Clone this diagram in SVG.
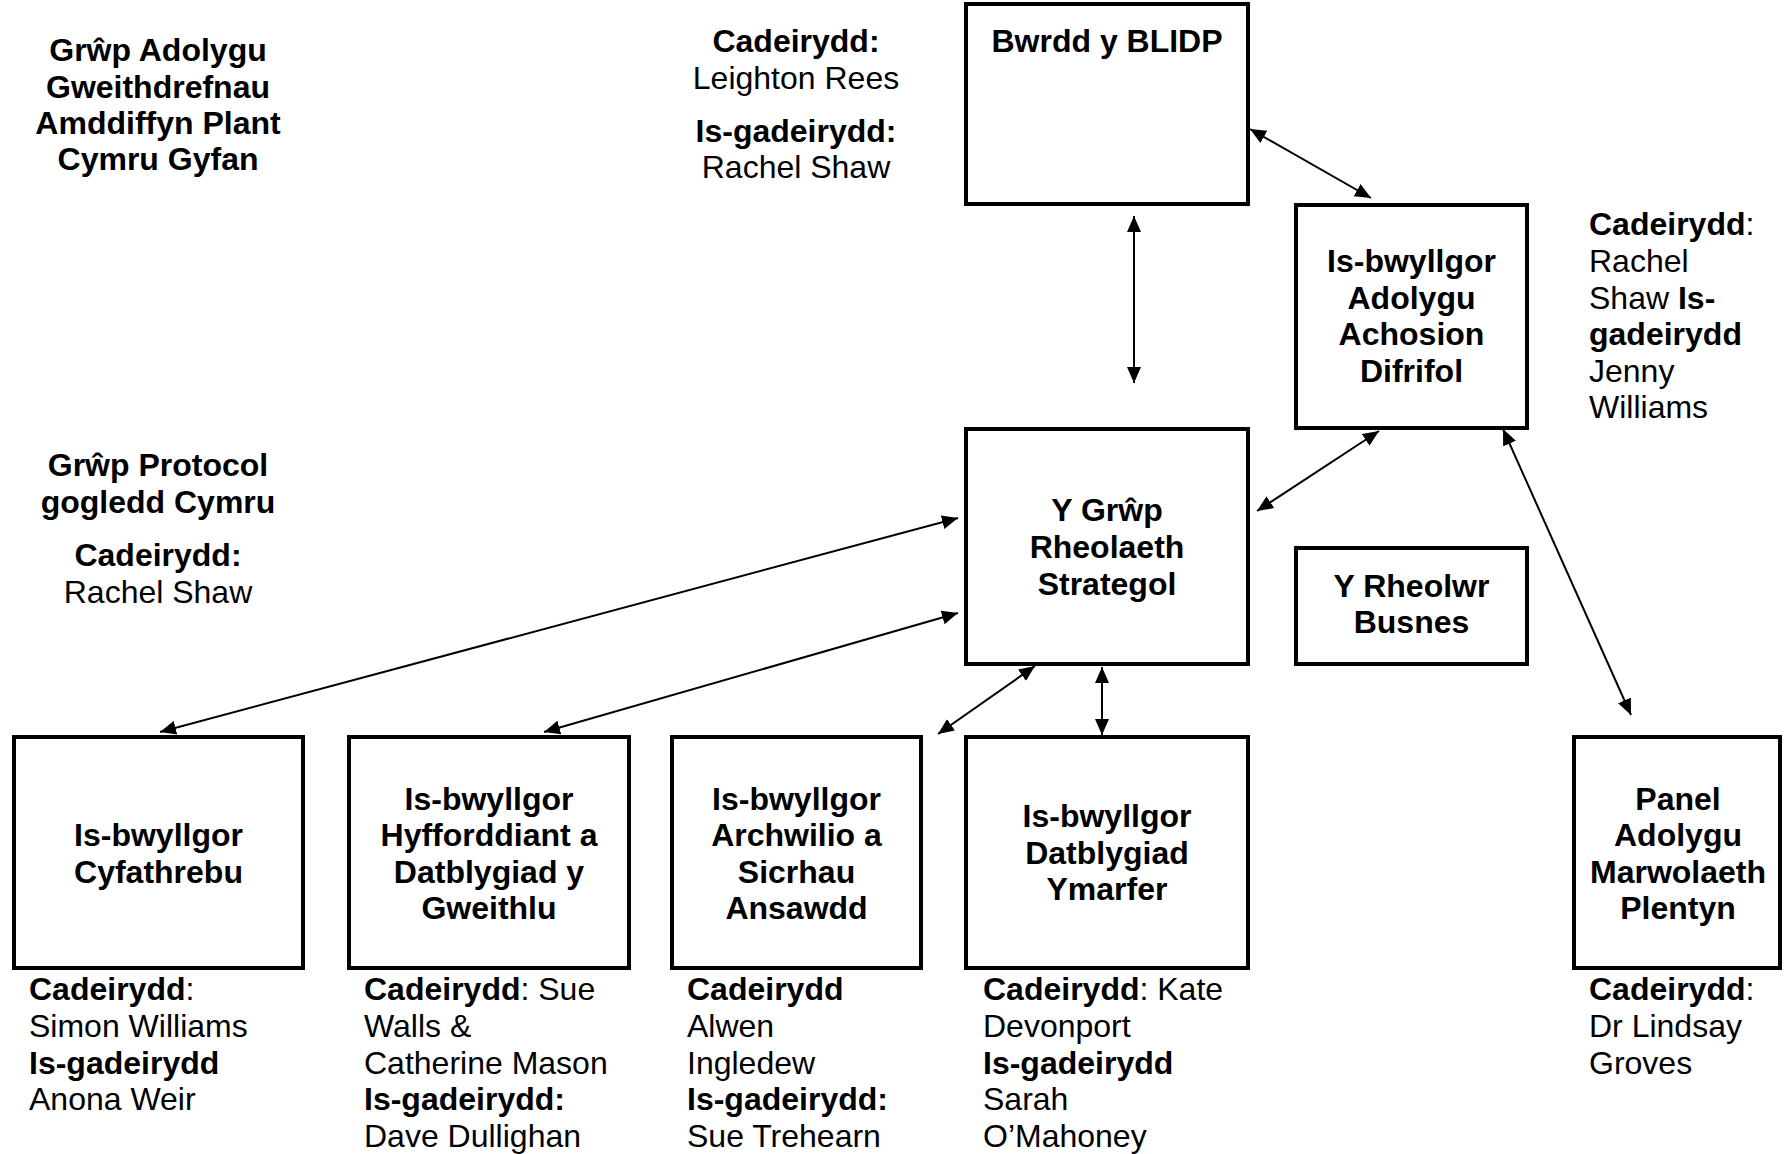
<svg xmlns="http://www.w3.org/2000/svg" width="1784" height="1154" viewBox="0 0 1784 1154">
<style>
text{font-family:"Liberation Sans",Arial,sans-serif;font-size:32px;fill:#000}
.b{font-weight:bold}
.c{text-anchor:middle}
.box{fill:#fff;stroke:#000;stroke-width:4}
.con line{stroke:#000;stroke-width:2;marker-start:url(#ah);marker-end:url(#ah)}
</style>
<defs>
<marker id="ah" markerUnits="userSpaceOnUse" markerWidth="17" markerHeight="16" refX="16" refY="7" orient="auto-start-reverse" viewBox="0 0 17 16">
<path d="M0,0 L16,7 L0,14 z" fill="#000"/>
</marker>
</defs>
<rect width="1784" height="1154" fill="#fff"/>

<g id="label-adolygu" class="b c">
<text x="158" y="61">Grŵp Adolygu</text>
<text x="158" y="97.5">Gweithdrefnau</text>
<text x="158" y="134">Amddiffyn Plant</text>
<text x="158" y="170">Cymru Gyfan</text>
</g>
<g id="label-bwrdd-chairs" class="c">
<text x="796" y="52" class="b">Cadeirydd:</text>
<text x="796" y="89">Leighton Rees</text>
<text x="796" y="142" class="b">Is-gadeirydd:</text>
<text x="796" y="178">Rachel Shaw</text>
</g>
<g id="label-protocol" class="c">
<text x="158" y="476" class="b">Grŵp Protocol</text>
<text x="158" y="513" class="b">gogledd Cymru</text>
<text x="158" y="566" class="b">Cadeirydd:</text>
<text x="158" y="603">Rachel Shaw</text>
</g>

<g id="node-bwrdd">
<rect class="box" x="966" y="4" width="282" height="200"/>
<text x="1107" y="52" class="b c">Bwrdd y BLIDP</text>
</g>
<g id="node-achosion">
<rect class="box" x="1296" y="205" width="231" height="223"/>
<g class="b c">
<text x="1411.5" y="272">Is-bwyllgor</text>
<text x="1411.5" y="308.5">Adolygu</text>
<text x="1411.5" y="345">Achosion</text>
<text x="1411.5" y="381.5">Difrifol</text>
</g>
<text x="1589" y="235"><tspan class="b">Cadeirydd</tspan>:</text>
<text x="1589" y="272">Rachel</text>
<text x="1589" y="308.5">Shaw <tspan class="b">Is-</tspan></text>
<text x="1589" y="345" class="b">gadeirydd</text>
<text x="1589" y="381.5">Jenny</text>
<text x="1589" y="418">Williams</text>
</g>
<g id="node-strategol">
<rect class="box" x="966" y="429" width="282" height="235"/>
<g class="b c">
<text x="1107" y="521">Y Grŵp</text>
<text x="1107" y="558">Rheolaeth</text>
<text x="1107" y="595">Strategol</text>
</g>
</g>
<g id="node-busnes">
<rect class="box" x="1296" y="548" width="231" height="116"/>
<g class="b c">
<text x="1411.5" y="597">Y Rheolwr</text>
<text x="1411.5" y="633">Busnes</text>
</g>
</g>
<g id="node-cyfathrebu">
<rect class="box" x="14" y="737" width="289" height="231"/>
<g class="b c">
<text x="158.5" y="846">Is-bwyllgor</text>
<text x="158.5" y="883">Cyfathrebu</text>
</g>
<text x="29" y="1000"><tspan class="b">Cadeirydd</tspan>:</text>
<text x="29" y="1037">Simon Williams</text>
<text x="29" y="1073.5" class="b">Is-gadeirydd</text>
<text x="29" y="1110">Anona Weir</text>
</g>
<g id="node-hyfforddiant">
<rect class="box" x="349" y="737" width="280" height="231"/>
<g class="b c">
<text x="489" y="810">Is-bwyllgor</text>
<text x="489" y="846">Hyfforddiant a</text>
<text x="489" y="883">Datblygiad y</text>
<text x="489" y="919">Gweithlu</text>
</g>
<text x="364" y="1000"><tspan class="b">Cadeirydd</tspan>: Sue</text>
<text x="364" y="1037">Walls &amp;</text>
<text x="364" y="1073.5">Catherine Mason</text>
<text x="364" y="1110" class="b">Is-gadeirydd:</text>
<text x="364" y="1147">Dave Dullighan</text>
</g>
<g id="node-archwilio">
<rect class="box" x="672" y="737" width="249" height="231"/>
<g class="b c">
<text x="796.5" y="810">Is-bwyllgor</text>
<text x="796.5" y="846">Archwilio a</text>
<text x="796.5" y="883">Sicrhau</text>
<text x="796.5" y="919">Ansawdd</text>
</g>
<text x="687" y="1000" class="b">Cadeirydd</text>
<text x="687" y="1037">Alwen</text>
<text x="687" y="1073.5">Ingledew</text>
<text x="687" y="1110" class="b">Is-gadeirydd:</text>
<text x="687" y="1147">Sue Trehearn</text>
</g>
<g id="node-ymarfer">
<rect class="box" x="966" y="737" width="282" height="231"/>
<g class="b c">
<text x="1107" y="827">Is-bwyllgor</text>
<text x="1107" y="863.5">Datblygiad</text>
<text x="1107" y="900">Ymarfer</text>
</g>
<text x="983" y="1000"><tspan class="b">Cadeirydd</tspan>: Kate</text>
<text x="983" y="1037">Devonport</text>
<text x="983" y="1073.5" class="b">Is-gadeirydd</text>
<text x="983" y="1110">Sarah</text>
<text x="983" y="1147">O’Mahoney</text>
</g>
<g id="node-panel">
<rect class="box" x="1574" y="737" width="206" height="231"/>
<g class="b c">
<text x="1678" y="810">Panel</text>
<text x="1678" y="846">Adolygu</text>
<text x="1678" y="883">Marwolaeth</text>
<text x="1678" y="919">Plentyn</text>
</g>
<text x="1589" y="1000"><tspan class="b">Cadeirydd</tspan>:</text>
<text x="1589" y="1037">Dr Lindsay</text>
<text x="1589" y="1073.5">Groves</text>
</g>

<g id="connectors" class="con">
<line x1="1250" y1="129" x2="1371" y2="198"/>
<line x1="1134" y1="216" x2="1134" y2="383"/>
<line x1="1257" y1="511" x2="1379" y2="431"/>
<line x1="1503" y1="429" x2="1631" y2="715"/>
<line x1="958" y1="518" x2="160" y2="732"/>
<line x1="958" y1="613" x2="544" y2="732"/>
<line x1="1035" y1="666" x2="938" y2="734"/>
<line x1="1102" y1="667" x2="1102" y2="735"/>
</g>
</svg>
